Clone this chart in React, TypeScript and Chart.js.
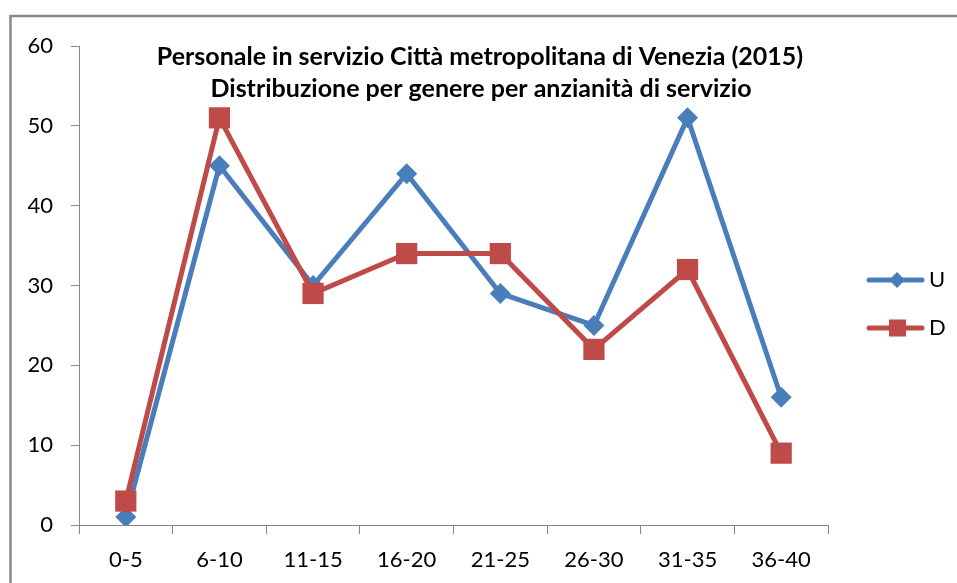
import React, { useEffect, useRef } from 'react';
import { Chart, registerables } from 'chart.js';

Chart.register(...registerables);

const categories = ['0-5', '6-10', '11-15', '16-20', '21-25', '26-30', '31-35', '36-40'];
const seriesU = [1, 45, 30, 44, 29, 25, 51, 16];
const seriesD = [3, 51, 29, 34, 34, 22, 32, 9];
const yMin = 0;
const yMax = 60;
const yStep = 10;
const titleLines = [
  'Personale in servizio Città metropolitana di Venezia (2015)',
  'Distribuzione per genere per anzianità di servizio',
];
const legendLabels = ['U', 'D'];

const BLUE = '#4A7EBB';
const RED = '#BE4B48';
const AXIS = '#868686';
const FONT = 'Lato';

const framePlugin = {
  id: 'frame',
  beforeDraw(chart: any) {
    const ctx = chart.ctx;
    ctx.save();
    ctx.fillStyle = '#ffffff';
    ctx.fillRect(0, 0, chart.width, chart.height);
    ctx.strokeStyle = '#888888';
    ctx.lineWidth = 2.5;
    ctx.strokeRect(10.5, 16, chart.width + 20, chart.height + 20);
    ctx.restore();
  },
};

const titlePlugin = {
  id: 'customTitle',
  afterDraw(chart: any) {
    const ctx = chart.ctx;
    ctx.save();
    ctx.fillStyle = '#000';
    ctx.font = `bold 25px ${FONT}`;
    ctx.textAlign = 'center';
    ctx.textBaseline = 'alphabetic';
    ctx.fillText(titleLines[0], 480, 65);
    ctx.fillText(titleLines[1], 481, 97);
    ctx.restore();
  },
};

function drawDiamond(ctx: any, x: number, y: number, r: number, color: string) {
  ctx.beginPath();
  ctx.moveTo(x, y - r);
  ctx.lineTo(x + r, y);
  ctx.lineTo(x, y + r);
  ctx.lineTo(x - r, y);
  ctx.closePath();
  ctx.fillStyle = color;
  ctx.fill();
}

const legendPlugin = {
  id: 'customLegend',
  afterDraw(chart: any) {
    const ctx = chart.ctx;
    ctx.save();
    const items = [
      { label: legendLabels[0], color: BLUE, y: 280, shape: 'diamond' },
      { label: legendLabels[1], color: RED, y: 328, shape: 'square' },
    ];
    for (const it of items) {
      ctx.strokeStyle = it.color;
      ctx.lineWidth = 5;
      ctx.lineCap = 'round';
      ctx.beginPath();
      ctx.moveTo(869, it.y);
      ctx.lineTo(922, it.y);
      ctx.stroke();
      if (it.shape === 'diamond') {
        drawDiamond(ctx, 897, it.y, 8, it.color);
      } else {
        ctx.fillStyle = it.color;
        ctx.fillRect(889, it.y - 8.5, 17, 17);
      }
      ctx.fillStyle = '#000';
      ctx.font = `22px ${FONT}`;
      ctx.textAlign = 'left';
      ctx.textBaseline = 'middle';
      ctx.fillText(it.label, 929, it.y);
    }
    ctx.restore();
  },
};

export default function App() {
  const ref = useRef<HTMLCanvasElement | null>(null);

  useEffect(() => {
    if (!ref.current) return;
    const chart = new Chart(ref.current, {
      type: 'line',
      data: {
        labels: categories,
        datasets: [
          {
            label: legendLabels[0],
            data: seriesU,
            borderColor: BLUE,
            backgroundColor: BLUE,
            borderWidth: 5,
            pointStyle: 'rectRot',
            pointRadius: 10.5,
            pointBorderWidth: 0,
            pointBackgroundColor: BLUE,
            tension: 0,
            order: 2,
          },
          {
            label: legendLabels[1],
            data: seriesD,
            borderColor: RED,
            backgroundColor: RED,
            borderWidth: 5,
            pointStyle: 'rect',
            pointRadius: 15,
            pointBorderWidth: 0,
            pointBackgroundColor: RED,
            tension: 0,
            order: 1,
          },
        ],
      },
      options: {
        animation: false,
        responsive: true,
        maintainAspectRatio: false,
        layout: { padding: { top: 46, right: 129, left: 0, bottom: 0 } },
        plugins: {
          legend: { display: false },
          title: { display: false },
          tooltip: { enabled: false },
        },
        scales: {
          x: {
            type: 'category',
            offset: true,
            grid: {
              offset: true,
              drawOnChartArea: false,
              drawTicks: true,
              tickLength: 9,
              color: AXIS,
            },
            border: { display: true, color: AXIS, width: 1 },
            ticks: {
              color: '#000',
              font: { family: FONT, size: 22 },
              padding: 13,
              maxRotation: 0,
              autoSkip: false,
            },
            afterFit(scale: any) {
              scale.height = 58;
            },
          },
          y: {
            min: yMin,
            max: yMax,
            grid: {
              drawOnChartArea: false,
              drawTicks: true,
              tickLength: 8,
              color: AXIS,
            },
            border: { display: true, color: AXIS, width: 1 },
            ticks: {
              stepSize: yStep,
              color: '#000',
              font: { family: FONT, size: 22 },
              padding: 18,
            },
            afterFit(scale: any) {
              scale.width = 79;
            },
          },
        },
      },
      plugins: [framePlugin, titlePlugin, legendPlugin],
    });
    return () => chart.destroy();
  }, []);

  return (
    <div style={{ position: 'absolute', left: 0, top: 0, width: 957, height: 583, background: '#fff' }}>
      <canvas ref={ref} />
    </div>
  );
}
